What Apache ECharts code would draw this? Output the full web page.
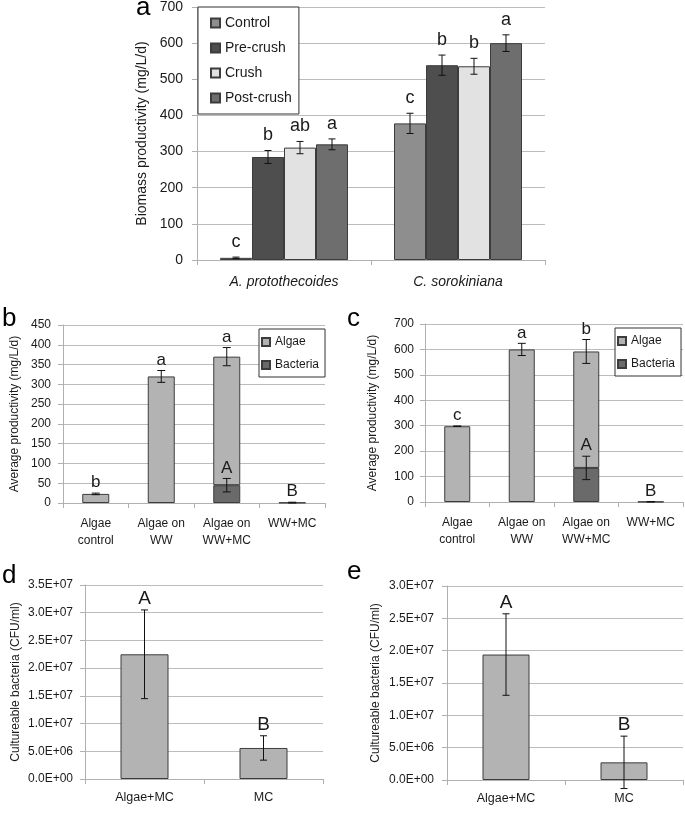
<!DOCTYPE html>
<html>
<head>
<meta charset="utf-8">
<script src="https://cdn.jsdelivr.net/npm/echarts@6/dist/echarts.min.js"></script>
<style>
html,body{margin:0;padding:0;background:#fff;}
#chart{width:685px;height:815px;}
</style>
</head>
<body>
<div id="chart"></div>
<script>
// ---------- Panel a ----------
const catsA = ['A. protothecoides', 'C. sorokiniana'];
const namesA = ['Control', 'Pre-crush', 'Crush', 'Post-crush'];
const controlA = [6, 378];
const precrushA = [285, 539];
const crushA = [311, 536];
const postcrushA = [320, 600];
const controlErrA = [2, 28];
const precrushErrA = [18, 28];
const crushErrA = [17, 22];
const postcrushErrA = [15, 23];
const controlLetA = ['c', 'c'];
const precrushLetA = ['b', 'b'];
const crushLetA = ['ab', 'b'];
const postcrushLetA = ['a', 'a'];
const ticksA = [0, 700, 100];

// ---------- Panel b ----------
const catsBC = ['Algae\ncontrol', 'Algae on\nWW', 'Algae on\nWW+MC', 'WW+MC'];
const algaeB = [23, 320, 325, null];
const bacteriaB = [null, null, 45, 1];
const algaeErrB = [2, 15, 23, null];
const bacteriaErrB = [null, null, 17, 1];
const algaeLetB = ['b', 'a', 'a', null];
const bacteriaLetB = [null, null, 'A', 'B'];
const ticksB = [0, 450, 50];

// ---------- Panel c ----------
const algaeC = [298, 600, 458, null];
const bacteriaC = [null, null, 134, 1];
const algaeErrC = [1, 24, 47, null];
const bacteriaErrC = [null, null, 46, 1];
const algaeLetC = ['c', 'a', 'b', null];
const bacteriaLetC = [null, null, 'A', 'B'];
const ticksC = [0, 700, 100];

// ---------- Panel d ----------
const catsDE = ['Algae+MC', 'MC'];
const bacteriaD = [2.25e7, 5.6e6];
const bacteriaErrD = [8.0e6, 2.2e6];
const bacteriaLetD = ['A', 'B'];
const ticksD = [0, 3.5e7, 5e6];

// ---------- Panel e ----------
const bacteriaE = [1.94e7, 2.73e6];
const bacteriaErrE = [6.3e6, 4.05e6];
const bacteriaLetE = ['A', 'B'];
const ticksE = [0, 3.0e7, 5e6];

const FF = 'Liberation Sans, Arial, sans-serif';
const TXT = '#1a1a1a';
const GRID = '#bcbcbc';
const AXIS = '#b0b0b0';
const BORDER = '#3c3c3c';

function sci(v) {
  if (v === 0) return '0.0E+00';
  const e = Math.floor(Math.log10(Math.abs(v)) + 1e-9);
  const m = v / Math.pow(10, e);
  return m.toFixed(1) + 'E+' + String(e).padStart(2, '0');
}

function yAxis(gi, t, name, gap, fs, nfs, margin, fmt) {
  return {
    type: 'value', gridIndex: gi, min: t[0], max: t[1], interval: t[2],
    name: name, nameLocation: 'middle', nameGap: gap, nameRotate: 90,
    nameTextStyle: { fontSize: nfs, color: TXT, fontFamily: FF },
    axisLine: { show: true, lineStyle: { color: AXIS, width: 1 } },
    axisTick: { show: true, length: 5, lineStyle: { color: AXIS } },
    axisLabel: { fontSize: fs, color: TXT, fontFamily: FF, margin: margin, formatter: fmt },
    splitLine: { show: true, lineStyle: { color: GRID, width: 1 } }
  };
}
function xAxis(gi, cats, fs, margin, italic) {
  return {
    type: 'category', gridIndex: gi, data: cats,
    axisLine: { show: true, lineStyle: { color: AXIS, width: 1 } },
    axisTick: { show: true, length: 5, lineStyle: { color: AXIS } },
    axisLabel: { fontSize: fs, color: TXT, fontFamily: FF, margin: margin, lineHeight: 17,
      fontStyle: italic ? 'italic' : 'normal', interval: 0 },
    splitLine: { show: false }
  };
}

function errSeries(gi, tops, errs, letters, offset, cap, fs, gap) {
  const items = [], labs = [];
  tops.forEach(function (t, i) {
    if (t == null) return;
    items.push([i, t, errs[i] || 0]);
    labs.push(letters[i] || '');
  });
  return {
    type: 'custom', xAxisIndex: gi, yAxisIndex: gi, data: items, z: 10, silent: true, clip: false,
    renderItem: function (params, api) {
      const ci = api.value(0), v = api.value(1), e = api.value(2);
      const p = api.coord([ci, v]);
      const hi = api.coord([ci, v + e]);
      const lo = api.coord([ci, v - e]);
      const x = p[0] + offset;
      const st = { stroke: '#111', lineWidth: 1 };
      const ch = [];
      if (e > 0) {
        ch.push({ type: 'line', shape: { x1: x, y1: hi[1], x2: x, y2: lo[1] }, style: st });
        ch.push({ type: 'line', shape: { x1: x - cap, y1: hi[1], x2: x + cap, y2: hi[1] }, style: st });
        ch.push({ type: 'line', shape: { x1: x - cap, y1: lo[1], x2: x + cap, y2: lo[1] }, style: st });
      }
      const lab = labs[params.dataIndex];
      if (lab) {
        ch.push({ type: 'text', style: { text: lab, x: x, y: hi[1] - gap, align: 'center', verticalAlign: 'bottom',
          fontSize: fs, fontFamily: FF, fill: TXT } });
      }
      return { type: 'group', children: ch };
    }
  };
}
function sum(a, b) { return a.map(function (v, i) { return v == null ? null : v + (b[i] || 0); }); }

const colorsA = ['#8e8e8e', '#4e4e4e', '#e2e2e2', '#6e6e6e'];
const valsA = [controlA, precrushA, crushA, postcrushA];
const errsA = [controlErrA, precrushErrA, crushErrA, postcrushErrA];
const letsA = [controlLetA, precrushLetA, crushLetA, postcrushLetA];
const BWA = 32;

const series = [];
namesA.forEach(function (n, k) {
  series.push({ type: 'bar', name: n, xAxisIndex: 0, yAxisIndex: 0, data: valsA[k], barWidth: BWA, barGap: '0%',
    itemStyle: { color: colorsA[k], borderColor: BORDER, borderWidth: 1 } });
});
namesA.forEach(function (n, k) {
  series.push(errSeries(0, valsA[k], errsA[k], letsA[k], (k - 1.5) * BWA, 3.5, 18, 6));
});

const ALG = '#b3b3b3', BAC = '#6a6a6a';
// panel b
series.push({ type: 'bar', name: 'Bacteria', xAxisIndex: 1, yAxisIndex: 1, stack: 'b', data: bacteriaB, barWidth: 27,
  itemStyle: { color: BAC, borderColor: BORDER, borderWidth: 1 } });
series.push({ type: 'bar', name: 'Algae', xAxisIndex: 1, yAxisIndex: 1, stack: 'b', data: algaeB, barWidth: 27,
  itemStyle: { color: ALG, borderColor: BORDER, borderWidth: 1 } });
series.push(errSeries(1, sum(algaeB, bacteriaB), algaeErrB, algaeLetB, 0, 4, 17, 2));
series.push(errSeries(1, bacteriaB, bacteriaErrB, bacteriaLetB, 0, 4, 17, 2));
// panel c
series.push({ type: 'bar', name: 'Bacteria', xAxisIndex: 2, yAxisIndex: 2, stack: 'c', data: bacteriaC, barWidth: 26,
  itemStyle: { color: BAC, borderColor: BORDER, borderWidth: 1 } });
series.push({ type: 'bar', name: 'Algae', xAxisIndex: 2, yAxisIndex: 2, stack: 'c', data: algaeC, barWidth: 26,
  itemStyle: { color: ALG, borderColor: BORDER, borderWidth: 1 } });
series.push(errSeries(2, sum(algaeC, bacteriaC), algaeErrC, algaeLetC, 0, 4, 17, 2));
series.push(errSeries(2, bacteriaC, bacteriaErrC, bacteriaLetC, 0, 4, 17, 2));
// panel d
series.push({ type: 'bar', name: 'CFU d', xAxisIndex: 3, yAxisIndex: 3, data: bacteriaD, barWidth: 48,
  itemStyle: { color: ALG, borderColor: BORDER, borderWidth: 1 } });
series.push(errSeries(3, bacteriaD, bacteriaErrD, bacteriaLetD, 0, 3.5, 19, 2));
// panel e
series.push({ type: 'bar', name: 'CFU e', xAxisIndex: 4, yAxisIndex: 4, data: bacteriaE, barWidth: 47,
  itemStyle: { color: ALG, borderColor: BORDER, borderWidth: 1 } });
series.push(errSeries(4, bacteriaE, bacteriaErrE, bacteriaLetE, 0, 3.5, 19, 2));

function panelLabel(t, x, y) {
  return { type: 'text', left: x, top: y, style: { text: t, fontSize: 26, fontFamily: FF, fill: '#000' } };
}
function legend(data, left, top, fs, iw, gap, pad) {
  return { data: data, left: left, top: top, orient: 'vertical', icon: 'rect', itemWidth: iw, itemHeight: iw,
    itemGap: gap, padding: pad, borderColor: '#333', borderWidth: 1, backgroundColor: '#fff', selectedMode: false,
    textStyle: { fontSize: fs, color: TXT, fontFamily: FF } };
}

const option = {
  animation: false,
  backgroundColor: '#fff',
  grid: [
    { left: 197, top: 7, width: 348, height: 253 },
    { left: 63, top: 325, width: 262, height: 178 },
    { left: 425, top: 324, width: 258, height: 178 },
    { left: 85, top: 585, width: 238, height: 194 },
    { left: 447, top: 586, width: 236, height: 194 }
  ],
  xAxis: [
    xAxis(0, catsA, 14, 14, true),
    xAxis(1, catsBC, 12, 12, false),
    xAxis(2, catsBC, 12, 12, false),
    xAxis(3, catsDE, 12.5, 10, false),
    xAxis(4, catsDE, 12.5, 10, false)
  ],
  yAxis: [
    yAxis(0, ticksA, 'Biomass productivity (mg/L/d)', 46, 14, 14, 14),
    yAxis(1, ticksB, 'Average productivity (mg/L/d)', 42, 12, 12, 12),
    yAxis(2, ticksC, 'Average productivity (mg/L/d)', 46, 12, 12, 11),
    yAxis(3, ticksD, 'Cultureable bacteria (CFU/ml)', 63, 12, 12, 12, sci),
    yAxis(4, ticksE, 'Cultureable bacteria (CFU/ml)', 65, 12, 12, 13, sci)
  ],
  legend: [
    legend(namesA, 198, 7, 14, 9, 11, [9, 7, 9, 12]),
    legend(['Algae', 'Bacteria'], 259, 329, 12, 8, 11, [7, 6, 6, 2]),
    legend(['Algae', 'Bacteria'], 615, 328, 12, 8, 11, [7, 6, 6, 2])
  ],
  graphic: [
    panelLabel('a', 136, -5),
    panelLabel('b', 2, 306),
    panelLabel('c', 347, 306),
    panelLabel('d', 2, 563),
    panelLabel('e', 347, 559)
  ],
  series: series
};

const chart = echarts.init(document.getElementById('chart'), null, { renderer: 'canvas' });
chart.setOption(option);
</script>
</body>
</html>
